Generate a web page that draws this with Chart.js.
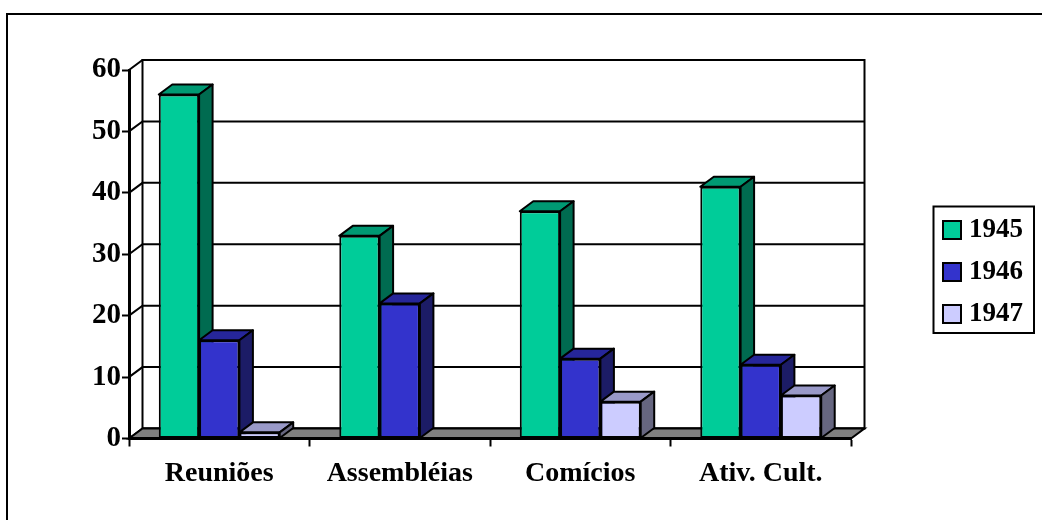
<!DOCTYPE html>
<html>
<head>
<meta charset="utf-8">
<style>
  html, body { margin: 0; padding: 0; background: #fff; }
  #wrap { width: 1042px; height: 520px; }
</style>
<script src="https://cdn.jsdelivr.net/npm/chart.js@4/dist/chart.umd.min.js"></script>
</head>
<body>
<div id="wrap"><canvas id="grafico" width="1042" height="520"></canvas></div>
<script>
const categorias = ['Reuniões', 'Assembléias', 'Comícios', 'Ativ. Cult.'];
const anos = ['1945', '1946', '1947'];
const valores1945 = [56, 33, 37, 41];
const valores1946 = [16, 22, 13, 12];
const valores1947 = [1, null, 6, 7];
const ticksY = [0, 10, 20, 30, 40, 50, 60];

const FONTE = '"Liberation Serif", "Times New Roman", serif';
const PROF_X = 13.5;   // deslocamento da profundidade 3D
const PROF_Y = 10;
const PADDING_LEGENDA = 15;

// frente, lateral e topo de cada série
const cores = [
  { frente: '#00CC99', lado: '#006B50', topo: '#009973' },
  { frente: '#3333CC', lado: '#1C1C66', topo: '#26269A' },
  { frente: '#CCCCFF', lado: '#666680', topo: '#9999C8' }
];

function poligono(ctx, pontos, fill) {
  ctx.beginPath();
  pontos.forEach((p, i) => i ? ctx.lineTo(p[0], p[1]) : ctx.moveTo(p[0], p[1]));
  ctx.closePath();
  if (fill) {
    ctx.fillStyle = fill;
    ctx.fill();
  }
  ctx.stroke();
}

// Moldura, paredes do fundo e piso
const fundo3d = {
  id: 'fundo3d',
  beforeDraw(chart) {
    const { ctx, chartArea: a, scales: { y } } = chart;
    ctx.save();
    ctx.strokeStyle = '#000';

    ctx.lineWidth = 2;
    ctx.beginPath();
    ctx.moveTo(7, 520);
    ctx.lineTo(7, 14);
    ctx.lineTo(1042, 14);
    ctx.stroke();

    // linhas de grade no fundo e na parede esquerda
    ticksY.forEach(v => {
      const py = y.getPixelForValue(v);
      ctx.beginPath();
      ctx.moveTo(a.left, py);
      ctx.lineTo(a.left + PROF_X, py - PROF_Y);
      ctx.lineTo(a.right + PROF_X, py - PROF_Y);
      ctx.stroke();
    });
    ctx.strokeRect(a.left + PROF_X, a.top - PROF_Y, a.right - a.left, a.bottom - a.top);

    poligono(ctx, [
      [a.left, a.bottom],
      [a.left + PROF_X, a.bottom - PROF_Y],
      [a.right + PROF_X, a.bottom - PROF_Y],
      [a.right, a.bottom]
    ], '#808080');
    ctx.restore();
  }
};

// Barras série a série: topo e lateral primeiro, depois a frente pelo próprio controller
const barras3d = {
  id: 'barras3d',
  beforeDatasetsDraw(chart) {
    const { ctx } = chart;
    anos.forEach((ano, d) => {
      const meta = chart.getDatasetMeta(d);
      const c = cores[d];
      ctx.save();
      ctx.strokeStyle = '#000';
      ctx.lineWidth = 2;
      ctx.lineJoin = 'round';
      meta.data.forEach((barra, i) => {
        if (chart.data.datasets[d].data[i] === null) return;
        const { x, y, base, width } = barra.getProps(['x', 'y', 'base', 'width'], true);
        const esq = x - width / 2, dir = x + width / 2;
        poligono(ctx, [[esq, y], [esq + PROF_X, y - PROF_Y], [dir + PROF_X, y - PROF_Y], [dir, y]], c.topo);
        poligono(ctx, [[dir, y], [dir + PROF_X, y - PROF_Y], [dir + PROF_X, base - PROF_Y], [dir, base]], c.lado);
      });
      ctx.restore();
      meta.controller.draw();
    });
    return false;
  }
};

// Caixa da legenda e quadradinhos das séries
const caixaLegenda = {
  id: 'caixaLegenda',
  beforeLayout(chart) {
    // reserva a faixa da direita inteira para a legenda
    chart.legend.fit = function () {
      Object.getPrototypeOf(this).fit.call(this);
      this.width = 191;
    };
  },
  afterLayout(chart) {
    const legenda = chart.legend;
    legenda.left = 943 - PADDING_LEGENDA;
    legenda.top -= 23;
    legenda.bottom -= 23;
  },
  afterDraw(chart) {
    const { ctx, legend } = chart;
    ctx.save();
    ctx.strokeStyle = '#000';
    ctx.lineWidth = 2;
    ctx.strokeRect(933.5, 206.5, 100.5, 126.5);
    legend.legendHitBoxes.forEach((caixa, i) => {
      ctx.fillStyle = cores[i].frente;
      ctx.fillRect(943, caixa.top + caixa.height / 2 - 9, 18, 18);
      ctx.strokeRect(943, caixa.top + caixa.height / 2 - 9, 18, 18);
    });
    ctx.restore();
  }
};

const series = [valores1945, valores1946, valores1947];

new Chart(document.getElementById('grafico'), {
  type: 'bar',
  data: {
    labels: categorias,
    datasets: anos.map((ano, i) => ({
      label: ano,
      data: series[i],
      backgroundColor: cores[i].frente,
      borderColor: '#000',
      borderWidth: 2,
      borderSkipped: false,
      categoryPercentage: 0.67,
      barPercentage: 1,
      clip: false
    }))
  },
  options: {
    responsive: false,
    animation: false,
    layout: { autoPadding: false, padding: { top: 70, left: 0, right: 0, bottom: 0 } },
    plugins: {
      tooltip: { enabled: false },
      legend: {
        position: 'right',
        labels: {
          color: '#000',
          font: { family: FONTE, size: 27, weight: 'bold' },
          boxWidth: 12.5,
          boxHeight: 18,
          padding: PADDING_LEGENDA,
          generateLabels() {
            return anos.map((ano, i) => ({
              text: ano,
              fillStyle: 'transparent',
              strokeStyle: 'transparent',
              lineWidth: 0,
              datasetIndex: i,
              fontColor: '#000'
            }));
          }
        }
      }
    },
    scales: {
      x: {
        afterFit(scale) { scale.height = 81.5; },
        grid: { drawOnChartArea: false, drawTicks: true, tickLength: 8, tickWidth: 2, tickColor: '#000', offset: true },
        border: { display: true, color: '#000', width: 3 },
        ticks: {
          color: '#000',
          maxRotation: 0,
          padding: 10,
          font: { family: FONTE, size: 28, weight: 'bold' }
        }
      },
      y: {
        min: 0,
        max: 60,
        afterFit(scale) { scale.width = 129; },
        afterBuildTicks(scale) { scale.ticks = ticksY.map(value => ({ value })); },
        grid: { drawOnChartArea: false, tickLength: 7, tickWidth: 2, tickColor: '#000' },
        border: { display: true, color: '#000', width: 3 },
        ticks: {
          color: '#000',
          padding: 1,
          font: { family: FONTE, size: 29, weight: 'bold' }
        }
      }
    }
  },
  plugins: [fundo3d, barras3d, caixaLegenda]
});
</script>
</body>
</html>
